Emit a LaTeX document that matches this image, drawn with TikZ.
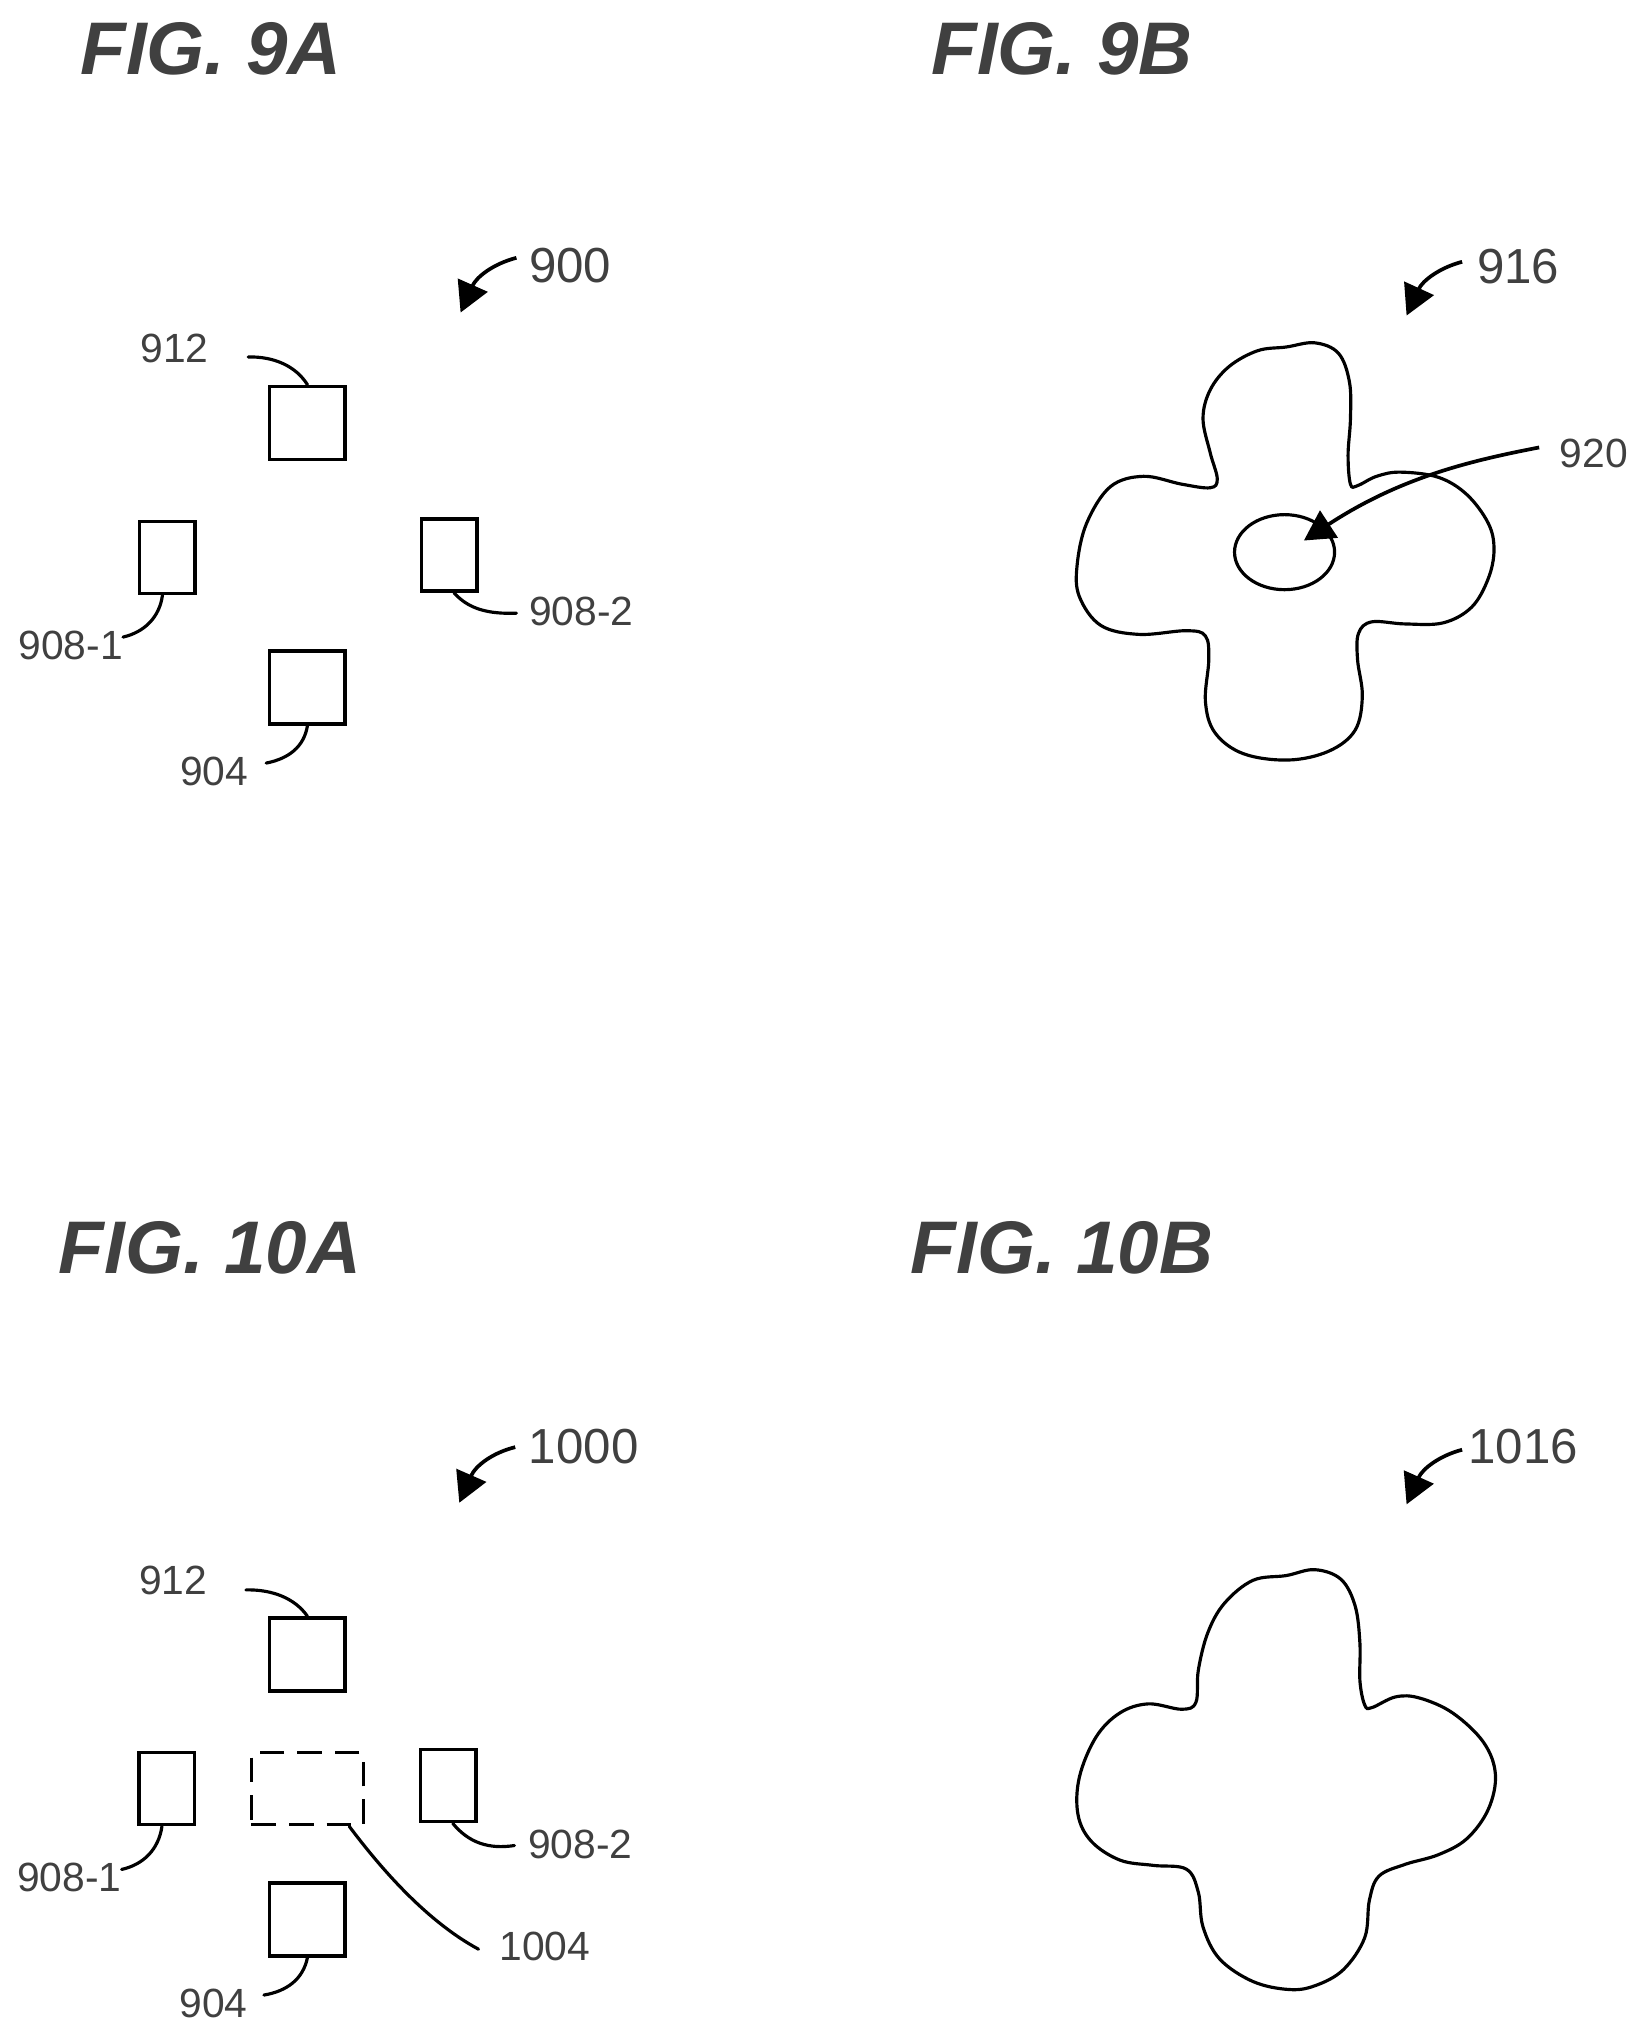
\documentclass[tikz,border=0pt]{standalone}
\usepackage{fontspec}
\setmainfont{Liberation Sans}
\usetikzlibrary{arrows.meta,shapes.geometric}
\tikzset{
  figlabel/.style={inner sep=0pt, text=black!75, font=\fontsize{21.2}{24}\selectfont\bfseries\itshape},
  reflabel/.style={inner sep=0pt, text=black!75, font=\fontsize{11.6}{13}\selectfont},
  biglabel/.style={inner sep=0pt, text=black!75, font=\fontsize{14}{16}\selectfont},
  wide/.style={rectangle, draw, line width=1pt, inner sep=0pt, minimum width=0.755cm, minimum height=0.73cm},
  narrow/.style={rectangle, draw, line width=1pt, inner sep=0pt, minimum width=0.555cm, minimum height=0.72cm},
  hidden/.style={rectangle, draw, line width=0.9pt, dash pattern=on 7pt off 3.7pt, inner sep=0pt, minimum width=1.12cm, minimum height=0.72cm},
  leader/.style={line width=0.9pt, line cap=round},
  pointer/.style={line width=1.05pt, -{Triangle[length=3mm,width=3.2mm]}},
  blob/.style={line width=0.9pt},
  toprow/.style={x=0.009957cm, y=-0.00995cm},
  botrow/.style={x=0.009957cm, y=-0.009957cm, yshift=-0.0316cm}
}
\begin{document}
\begin{tikzpicture}[x=0.01cm, y=-0.01cm]
  \useasboundingbox (0,0) rectangle (1644,2037);

  % Titles
  \node[figlabel] at (211, 49) (fig9a) {FIG. 9A};
  \node[figlabel] at (1062, 49) (fig9b) {FIG. 9B};
  \node[figlabel] at (210, 1248) (fig10a) {FIG. 10A};
  \node[figlabel] at (1062, 1248) (fig10b) {FIG. 10B};

  % Fig 9A
  \begin{scope}[toprow]
    \node[wide] at (308.4, 425) (a912) {};
    \node[narrow] at (167.6, 560) (a9081) {};
    \node[narrow] at (450.7, 557.5) (a9082) {};
    \node[wide] at (308.4, 690.5) (a904) {};

    \node[biglabel] at (572, 266.5) (l900) {900};
    \node[reflabel] at (175, 349.6) (l912) {912};
    \node[reflabel] at (71, 648) (l9081) {908-1};
    \node[reflabel] at (583, 614) (l9082) {908-2};
    \node[reflabel] at (215, 774.5) (l904) {904};

    \coordinate (s900) at (518, 259);
    \coordinate (t900) at (462, 314);
    \coordinate (s912) at (249, 358.6);
    \coordinate (s9081) at (123.4, 640);
    \coordinate (s9082) at (518, 616);
    \coordinate (s904) at (267, 766.6);

    \draw[pointer] (s900) .. controls (495, 265) and (478, 278) .. (t900);
    \draw[leader] (s912) .. controls (275, 358) and (297, 368) .. (a912.north);
    \draw[leader] (s9081) .. controls (145, 635) and (160, 620) .. (a9081.-97);
    \draw[leader] (s9082) .. controls (490, 617) and (470, 612) .. (a9082.-83);
    \draw[leader] (s904) .. controls (290, 762) and (305, 750) .. (a904.south);
  \end{scope}

  % Fig 9B
  \begin{scope}[toprow, xshift=0.0387cm]
    \draw[blob] plot[smooth cycle, tension=0.6] coordinates {
      (1286.3,348.6) (1314.9,344.4) (1338.7,354.9) (1349.7,383.8) (1350.7,420.6) (1348.3,457.4)
      (1350.7,486.4) (1357.8,487.9) (1376.9,478.5) (1400.7,474.3) (1438.9,479.5) (1467.5,496.9)
      (1489,525.8) (1494.7,552.1) (1489,581) (1472.3,609.9) (1443.7,625.7) (1405.5,626.8)
      (1372.1,624.7) (1358.8,636.2) (1357.8,662.5) (1362.6,699.3) (1355.4,733.5) (1329.2,754.5)
      (1288.7,763.5) (1243.4,757.2) (1214.8,736.1) (1205.2,704.6) (1208.6,662.5) (1205.2,638.8)
      (1186.1,633.6) (1138.5,637.3) (1100.3,628.3) (1078.8,599.4) (1076.5,567.9) (1086,525.8)
      (1109.8,489) (1143.2,478.5) (1181.4,486.4) (1210,490) (1217.1,481.1) (1210,454.8)
      (1202.8,420.6) (1210,391.7) (1229.1,368.1) (1257.7,352.3)};
    \node[ellipse, draw, line width=0.9pt, inner sep=0pt, minimum width=1cm, minimum height=0.75cm] at (1284.6, 554.7) (hole) {};

    \node[biglabel] at (1519, 268) (l916) {916};
    \node[reflabel] at (1595, 456) (l920) {920};

    \coordinate (s916) at (1462.7, 263);
    \coordinate (t916) at (1407, 317);
    \coordinate (s920) at (1540, 449.5);
    \coordinate (t920) at (1304, 543);

    \draw[pointer] (s916) .. controls (1440, 269) and (1423, 282) .. (t916);
    \draw[pointer] (s920) .. controls (1470, 463) and (1400, 480) .. (t920);
  \end{scope}

  % Fig 10A
  \begin{scope}[botrow]
    \node[wide] at (308.4, 1656.5) (b912) {};
    \node[narrow] at (167.1, 1791) (b9081) {};
    \node[hidden] at (308.4, 1791) (b1004) {};
    \node[narrow] at (449.6, 1788) (b9082) {};
    \node[wide] at (308.4, 1922) (b904) {};

    \node[biglabel] at (585.5, 1448) (l1000) {1000};
    \node[reflabel] at (173.6, 1582.5) (m912) {912};
    \node[reflabel] at (69.5, 1879.7) (m9081) {908-1};
    \node[reflabel] at (582, 1846.5) (m9082) {908-2};
    \node[reflabel] at (546.4, 1949.5) (l1004) {1004};
    \node[reflabel] at (214, 2006) (m904) {904};

    \coordinate (s1000) at (516.8, 1448.4);
    \coordinate (t1000) at (460.7, 1504.2);
    \coordinate (r912) at (246.7, 1591.6);
    \coordinate (r9081) at (122, 1872);
    \coordinate (r9082) at (516, 1848);
    \coordinate (r1004) at (480, 1952);
    \coordinate (r904) at (264.7, 1998);

    \draw[pointer] (s1000) .. controls (494, 1454) and (477, 1467) .. (t1000);
    \draw[leader] (r912) .. controls (273, 1591) and (296, 1600) .. (b912.north);
    \draw[leader] (r9081) .. controls (144, 1867) and (159, 1852) .. (b9081.-97);
    \draw[leader] (r9082) .. controls (490, 1852) and (470, 1845) .. (b9082.-83);
    \draw[leader] (r1004) .. controls (430, 1925) and (385, 1875) .. (b1004.-42);
    \draw[leader] (r904) .. controls (288, 1994) and (304, 1982) .. (b904.south);
  \end{scope}

  % Fig 10B
  \begin{scope}[botrow, xshift=0.0387cm]
    \draw[blob] plot[smooth cycle, tension=0.6] coordinates {
      (1286.3,1577.2) (1314.9,1571.3) (1341.1,1580.9) (1355.4,1607.7) (1360.2,1645.3) (1360.2,1682.9)
      (1365,1707) (1372.1,1709.7) (1396,1698.9) (1419.8,1700) (1453.2,1715) (1484.2,1744.5)
      (1496.1,1776.7) (1489,1811.6) (1467.5,1841.1) (1438.9,1857.2) (1405.5,1866.9) (1379.3,1878.7)
      (1369.7,1902.8) (1365,1940.4) (1343.5,1972.6) (1314.9,1988.7) (1288.7,1992.4) (1252.9,1984.4)
      (1219.5,1961.8) (1202.8,1929.6) (1198.1,1894.8) (1186.1,1871.7) (1152.8,1867.9) (1119.4,1862.6)
      (1090.8,1843.8) (1077.4,1817) (1078.8,1779.4) (1095.5,1739.2) (1119.4,1715) (1148,1705.9)
      (1181.4,1711.3) (1195.7,1704.3) (1198.1,1672.1) (1207.6,1634.6) (1224.3,1605) (1252.9,1582)};

    \node[biglabel] at (1523.8, 1448) (l1016) {1016};

    \coordinate (s1016) at (1462.7, 1451);
    \coordinate (t1016) at (1407, 1505.8);

    \draw[pointer] (s1016) .. controls (1440, 1457) and (1423, 1470) .. (t1016);
  \end{scope}
\end{tikzpicture}
\end{document}
